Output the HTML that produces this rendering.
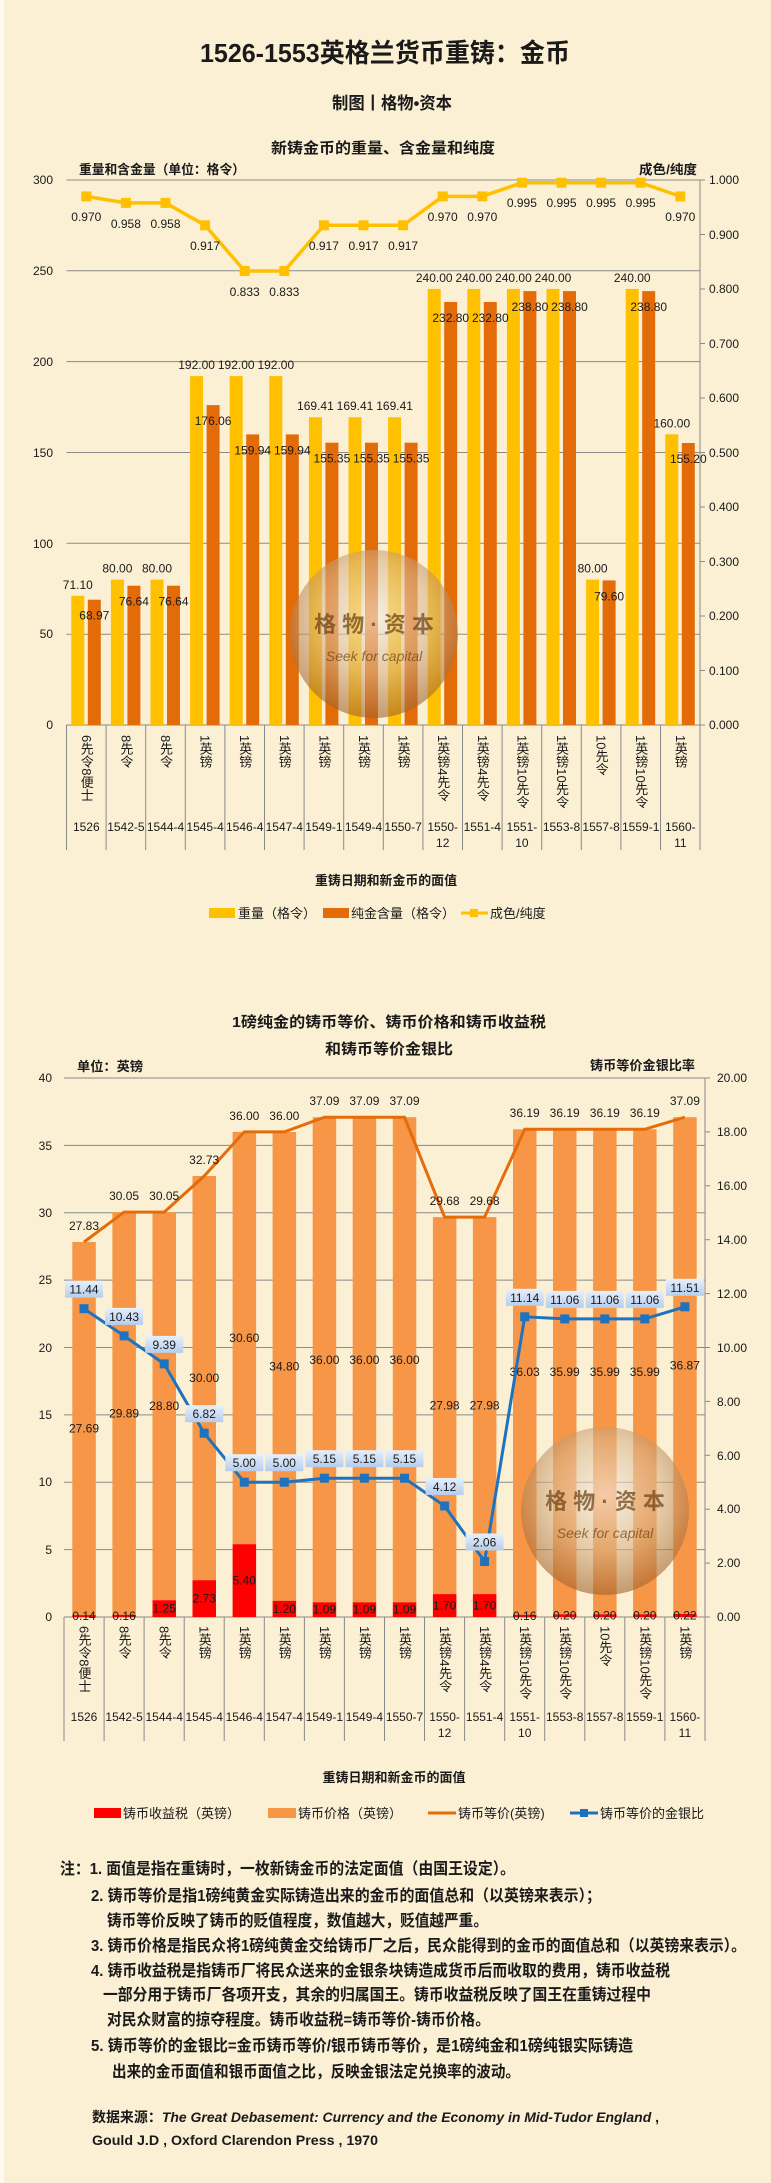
<!DOCTYPE html>
<html><head><meta charset="utf-8"><style>
html,body{margin:0;padding:0;background:#fcf0d4;}
svg{display:block;}
text{font-family:"Liberation Sans","Noto Sans CJK SC",sans-serif;fill:#1a1a1a;}
.n{font-size:12px;text-anchor:middle;}
.tk{font-size:12px;}
.cj{font-size:13px;}
.b{font-weight:bold;}
.v{font-size:13px;writing-mode:vertical-rl;}
.note{font-size:16px;font-weight:bold;}
</style></head><body>
<svg width="771" height="2183" viewBox="0 0 771 2183" xmlns="http://www.w3.org/2000/svg">
<defs>
<radialGradient id="wm" cx="50%" cy="40%" r="60%">
<stop offset="0" stop-color="#f3efe8"/><stop offset="0.55" stop-color="#d8b48a"/><stop offset="1" stop-color="#a0602a"/>
</radialGradient>
<linearGradient id="lb" x1="0" y1="0" x2="0" y2="1"><stop offset="0" stop-color="#e8f0fb"/><stop offset="1" stop-color="#b5cdee"/></linearGradient>
</defs>
<rect x="0" y="0" width="771" height="2183" fill="#fcf0d4"/>
<rect x="0" y="0" width="4" height="2183" fill="#fffaf0"/>

<!-- Titles -->
<text x="385" y="62" class="b" font-size="26" text-anchor="middle" textLength="370" lengthAdjust="spacingAndGlyphs">1526-1553英格兰货币重铸：金币</text>
<text x="392" y="109" class="b" font-size="17" text-anchor="middle" textLength="120" lengthAdjust="spacingAndGlyphs">制图丨格物•资本</text>
<text x="383" y="153" class="b" font-size="15" text-anchor="middle" textLength="224" lengthAdjust="spacingAndGlyphs">新铸金币的重量、含金量和纯度</text>
<text x="79" y="174" class="b" font-size="13" textLength="166" lengthAdjust="spacingAndGlyphs">重量和含金量（单位：格令）</text>
<text x="639" y="174" class="b" font-size="13" textLength="58" lengthAdjust="spacingAndGlyphs">成色/纯度</text>

<!-- Chart1 grid -->
<g stroke="#8a8a8a" stroke-width="1">
<line x1="66.5" y1="180" x2="700" y2="180"/><line x1="66.5" y1="270.8" x2="700" y2="270.8"/><line x1="66.5" y1="361.6" x2="700" y2="361.6"/><line x1="66.5" y1="452.5" x2="700" y2="452.5"/><line x1="66.5" y1="543.3" x2="700" y2="543.3"/><line x1="66.5" y1="634.2" x2="700" y2="634.2"/><line x1="66.5" y1="725" x2="700" y2="725"/>
<line x1="700" y1="180" x2="700" y2="725"/>
<line x1="700" y1="180" x2="705" y2="180"/><line x1="700" y1="234.5" x2="705" y2="234.5"/><line x1="700" y1="289" x2="705" y2="289"/><line x1="700" y1="343.5" x2="705" y2="343.5"/><line x1="700" y1="398" x2="705" y2="398"/><line x1="700" y1="452.5" x2="705" y2="452.5"/><line x1="700" y1="507" x2="705" y2="507"/><line x1="700" y1="561.5" x2="705" y2="561.5"/><line x1="700" y1="616" x2="705" y2="616"/><line x1="700" y1="670.5" x2="705" y2="670.5"/><line x1="700" y1="725" x2="705" y2="725"/>
<line x1="66.5" y1="725" x2="66.5" y2="850"/><line x1="106.1" y1="725" x2="106.1" y2="850"/><line x1="145.7" y1="725" x2="145.7" y2="850"/><line x1="185.3" y1="725" x2="185.3" y2="850"/><line x1="224.9" y1="725" x2="224.9" y2="850"/><line x1="264.5" y1="725" x2="264.5" y2="850"/><line x1="304.1" y1="725" x2="304.1" y2="850"/><line x1="343.7" y1="725" x2="343.7" y2="850"/><line x1="383.3" y1="725" x2="383.3" y2="850"/><line x1="422.9" y1="725" x2="422.9" y2="850"/><line x1="462.5" y1="725" x2="462.5" y2="850"/><line x1="502.1" y1="725" x2="502.1" y2="850"/><line x1="541.7" y1="725" x2="541.7" y2="850"/><line x1="581.3" y1="725" x2="581.3" y2="850"/><line x1="620.9" y1="725" x2="620.9" y2="850"/><line x1="660.5" y1="725" x2="660.5" y2="850"/><line x1="700" y1="725" x2="700" y2="850"/>
</g>
<g class="tk" text-anchor="end">
<text x="53" y="184">300</text><text x="53" y="275">250</text><text x="53" y="366">200</text><text x="53" y="457">150</text><text x="53" y="548">100</text><text x="53" y="638">50</text><text x="53" y="729">0</text>
</g>
<g class="tk">
<text x="709" y="184">1.000</text><text x="709" y="239">0.900</text><text x="709" y="293">0.800</text><text x="709" y="348">0.700</text><text x="709" y="402">0.600</text><text x="709" y="457">0.500</text><text x="709" y="511">0.400</text><text x="709" y="566">0.300</text><text x="709" y="620">0.200</text><text x="709" y="675">0.100</text><text x="709" y="729">0.000</text>
</g>

<!-- Chart1 bars -->
<g fill="#ffc000">
<rect x="71.3" y="595.8" width="13" height="129.2"/><rect x="110.9" y="579.6" width="13" height="145.4"/><rect x="150.5" y="579.6" width="13" height="145.4"/>
<rect x="190.1" y="376.1" width="13" height="348.9"/><rect x="229.7" y="376.1" width="13" height="348.9"/><rect x="269.3" y="376.1" width="13" height="348.9"/>
<rect x="308.9" y="417.2" width="13" height="307.8"/><rect x="348.5" y="417.2" width="13" height="307.8"/><rect x="388.1" y="417.2" width="13" height="307.8"/>
<rect x="427.7" y="288.9" width="13" height="436.1"/><rect x="467.3" y="288.9" width="13" height="436.1"/><rect x="506.9" y="288.9" width="13" height="436.1"/><rect x="546.5" y="288.9" width="13" height="436.1"/>
<rect x="586.1" y="579.6" width="13" height="145.4"/><rect x="625.7" y="288.9" width="13" height="436.1"/><rect x="665.3" y="434.3" width="13" height="290.7"/>
</g>
<g fill="#e36c09">
<rect x="87.8" y="599.7" width="13" height="125.3"/><rect x="127.4" y="585.7" width="13" height="139.3"/><rect x="167" y="585.7" width="13" height="139.3"/>
<rect x="206.6" y="405.1" width="13" height="319.9"/><rect x="246.2" y="434.4" width="13" height="290.6"/><rect x="285.8" y="434.4" width="13" height="290.6"/>
<rect x="325.4" y="442.7" width="13" height="282.3"/><rect x="365" y="442.7" width="13" height="282.3"/><rect x="404.6" y="442.7" width="13" height="282.3"/>
<rect x="444.2" y="302" width="13" height="423"/><rect x="483.8" y="302" width="13" height="423"/><rect x="523.4" y="291.1" width="13" height="433.9"/><rect x="563" y="291.1" width="13" height="433.9"/>
<rect x="602.6" y="580.4" width="13" height="144.6"/><rect x="642.2" y="291.1" width="13" height="433.9"/><rect x="681.8" y="443" width="13" height="282"/>
</g>

<!-- Chart1 fineness line -->
<polyline fill="none" stroke="#ffc000" stroke-width="3.5" points="86.3,196.4 125.9,202.9 165.5,202.9 205.1,225.3 244.7,271 284.3,271 323.9,225.3 363.5,225.3 403.1,225.3 442.7,196.4 482.3,196.4 521.9,182.7 561.5,182.7 601.1,182.7 640.7,182.7 680.3,196.4"/>
<g fill="#ffc000">
<rect x="81.3" y="191.4" width="10" height="10"/><rect x="120.9" y="197.9" width="10" height="10"/><rect x="160.5" y="197.9" width="10" height="10"/><rect x="200.1" y="220.3" width="10" height="10"/><rect x="239.7" y="266" width="10" height="10"/><rect x="279.3" y="266" width="10" height="10"/><rect x="318.9" y="220.3" width="10" height="10"/><rect x="358.5" y="220.3" width="10" height="10"/><rect x="398.1" y="220.3" width="10" height="10"/><rect x="437.7" y="191.4" width="10" height="10"/><rect x="477.3" y="191.4" width="10" height="10"/><rect x="516.9" y="177.7" width="10" height="10"/><rect x="556.5" y="177.7" width="10" height="10"/><rect x="596.1" y="177.7" width="10" height="10"/><rect x="635.7" y="177.7" width="10" height="10"/><rect x="675.3" y="191.4" width="10" height="10"/>
</g>
<g class="n">
<text x="86.3" y="221">0.970</text><text x="125.9" y="228">0.958</text><text x="165.5" y="228">0.958</text><text x="205.1" y="250">0.917</text><text x="244.7" y="296">0.833</text><text x="284.3" y="296">0.833</text><text x="323.9" y="250">0.917</text><text x="363.5" y="250">0.917</text><text x="403.1" y="250">0.917</text><text x="442.7" y="221">0.970</text><text x="482.3" y="221">0.970</text><text x="521.9" y="207">0.995</text><text x="561.5" y="207">0.995</text><text x="601.1" y="207">0.995</text><text x="640.7" y="207">0.995</text><text x="680.3" y="221">0.970</text>
</g>
<g class="n">
<text x="77.8" y="588.8">71.10</text><text x="117.4" y="572.6">80.00</text><text x="157" y="572.6">80.00</text><text x="196.6" y="369.1">192.00</text><text x="236.2" y="369.1">192.00</text><text x="275.8" y="369.1">192.00</text><text x="315.4" y="410.2">169.41</text><text x="355" y="410.2">169.41</text><text x="394.6" y="410.2">169.41</text><text x="434.2" y="281.9">240.00</text><text x="473.8" y="281.9">240.00</text><text x="513.4" y="281.9">240.00</text><text x="553" y="281.9">240.00</text><text x="592.6" y="572.6">80.00</text><text x="632.2" y="281.9">240.00</text><text x="671.8" y="427.3">160.00</text>
<text x="94.3" y="619.7">68.97</text><text x="133.9" y="605.7">76.64</text><text x="173.5" y="605.7">76.64</text><text x="213.1" y="425.1">176.06</text><text x="252.7" y="454.4">159.94</text><text x="292.3" y="454.4">159.94</text><text x="331.9" y="462.7">155.35</text><text x="371.5" y="462.7">155.35</text><text x="411.1" y="462.7">155.35</text><text x="450.7" y="322">232.80</text><text x="490.3" y="322">232.80</text><text x="529.9" y="311.1">238.80</text><text x="569.5" y="311.1">238.80</text><text x="609.1" y="600.4">79.60</text><text x="648.7" y="311.1">238.80</text><text x="688.3" y="463">155.20</text>
</g>

<!-- watermark 1 -->
<g opacity="0.6"><circle cx="374" cy="634" r="84" fill="url(#wm)"/></g>
<text x="374" y="632" font-size="22" text-anchor="middle" fill="#6b3f12" style="fill:#6b3f12" font-weight="bold" opacity="0.7">格 物 · 资 本</text>
<text x="374" y="661" font-size="14" text-anchor="middle" font-style="italic" style="fill:#6b3f12" opacity="0.7">Seek for capital</text>

<!-- Chart1 x labels -->
<g class="v">
<text x="86.3" y="735">6先令8便士</text><text x="125.9" y="735">8先令</text><text x="165.5" y="735">8先令</text><text x="205.1" y="735">1英镑</text><text x="244.7" y="735">1英镑</text><text x="284.3" y="735">1英镑</text><text x="323.9" y="735">1英镑</text><text x="363.5" y="735">1英镑</text><text x="403.1" y="735">1英镑</text><text x="442.7" y="735">1英镑4先令</text><text x="482.3" y="735">1英镑4先令</text><text x="521.9" y="735">1英镑10先令</text><text x="561.5" y="735">1英镑10先令</text><text x="601.1" y="735">10先令</text><text x="640.7" y="735">1英镑10先令</text><text x="680.3" y="735">1英镑</text>
</g>
<g class="n">
<text x="86.3" y="831">1526</text><text x="125.9" y="831">1542-5</text><text x="165.5" y="831">1544-4</text><text x="205.1" y="831">1545-4</text><text x="244.7" y="831">1546-4</text><text x="284.3" y="831">1547-4</text><text x="323.9" y="831">1549-1</text><text x="363.5" y="831">1549-4</text><text x="403.1" y="831">1550-7</text><text x="442.7" y="831">1550-</text><text x="442.7" y="847">12</text><text x="482.3" y="831">1551-4</text><text x="521.9" y="831">1551-</text><text x="521.9" y="847">10</text><text x="561.5" y="831">1553-8</text><text x="601.1" y="831">1557-8</text><text x="640.7" y="831">1559-1</text><text x="680.3" y="831">1560-</text><text x="680.3" y="847">11</text>
</g>
<text x="386" y="885" class="b" font-size="13" text-anchor="middle" textLength="142" lengthAdjust="spacingAndGlyphs">重铸日期和新金币的面值</text>
<!-- legend 1 -->
<rect x="209" y="908" width="26" height="10" fill="#ffc000"/>
<text x="238" y="918" class="cj">重量（格令）</text>
<rect x="323" y="908" width="26" height="10" fill="#e36c09"/>
<text x="351" y="918" class="cj">纯金含量（格令）</text>
<line x1="461" y1="913" x2="488" y2="913" stroke="#ffc000" stroke-width="3"/><rect x="470" y="909" width="8" height="8" fill="#ffc000"/>
<text x="490" y="918" class="cj">成色/纯度</text>

<!-- Chart2 titles -->
<text x="389" y="1027" class="b" font-size="15" text-anchor="middle" textLength="314" lengthAdjust="spacingAndGlyphs">1磅纯金的铸币等价、铸币价格和铸币收益税</text>
<text x="389" y="1054" class="b" font-size="15" text-anchor="middle" textLength="128" lengthAdjust="spacingAndGlyphs">和铸币等价金银比</text>
<text x="77" y="1071" class="b" font-size="13" textLength="66" lengthAdjust="spacingAndGlyphs">单位：英镑</text>
<text x="590" y="1070" class="b" font-size="13" textLength="105" lengthAdjust="spacingAndGlyphs">铸币等价金银比率</text>

<g stroke="#8a8a8a" stroke-width="1">
<line x1="64" y1="1078" x2="705" y2="1078"/><line x1="64" y1="1145.4" x2="705" y2="1145.4"/><line x1="64" y1="1212.8" x2="705" y2="1212.8"/><line x1="64" y1="1280.1" x2="705" y2="1280.1"/><line x1="64" y1="1347.5" x2="705" y2="1347.5"/><line x1="64" y1="1414.9" x2="705" y2="1414.9"/><line x1="64" y1="1482.3" x2="705" y2="1482.3"/><line x1="64" y1="1549.6" x2="705" y2="1549.6"/><line x1="64" y1="1617" x2="705" y2="1617"/>
<line x1="705" y1="1078" x2="705" y2="1617"/>
<line x1="705" y1="1078" x2="710" y2="1078"/><line x1="705" y1="1131.9" x2="710" y2="1131.9"/><line x1="705" y1="1185.8" x2="710" y2="1185.8"/><line x1="705" y1="1239.7" x2="710" y2="1239.7"/><line x1="705" y1="1293.6" x2="710" y2="1293.6"/><line x1="705" y1="1347.5" x2="710" y2="1347.5"/><line x1="705" y1="1401.4" x2="710" y2="1401.4"/><line x1="705" y1="1455.3" x2="710" y2="1455.3"/><line x1="705" y1="1509.2" x2="710" y2="1509.2"/><line x1="705" y1="1563.1" x2="710" y2="1563.1"/><line x1="705" y1="1617" x2="710" y2="1617"/>
<line x1="64" y1="1617" x2="64" y2="1741"/><line x1="104.1" y1="1617" x2="104.1" y2="1741"/><line x1="144.1" y1="1617" x2="144.1" y2="1741"/><line x1="184.2" y1="1617" x2="184.2" y2="1741"/><line x1="224.2" y1="1617" x2="224.2" y2="1741"/><line x1="264.3" y1="1617" x2="264.3" y2="1741"/><line x1="304.4" y1="1617" x2="304.4" y2="1741"/><line x1="344.4" y1="1617" x2="344.4" y2="1741"/><line x1="384.5" y1="1617" x2="384.5" y2="1741"/><line x1="424.5" y1="1617" x2="424.5" y2="1741"/><line x1="464.6" y1="1617" x2="464.6" y2="1741"/><line x1="504.7" y1="1617" x2="504.7" y2="1741"/><line x1="544.7" y1="1617" x2="544.7" y2="1741"/><line x1="584.8" y1="1617" x2="584.8" y2="1741"/><line x1="624.8" y1="1617" x2="624.8" y2="1741"/><line x1="664.9" y1="1617" x2="664.9" y2="1741"/><line x1="705" y1="1617" x2="705" y2="1741"/>
</g>
<g class="tk" text-anchor="end">
<text x="52" y="1082">40</text><text x="52" y="1150">35</text><text x="52" y="1217">30</text><text x="52" y="1284">25</text><text x="52" y="1352">20</text><text x="52" y="1419">15</text><text x="52" y="1486">10</text><text x="52" y="1554">5</text><text x="52" y="1621">0</text>
</g>
<g class="tk">
<text x="717" y="1082">20.00</text><text x="717" y="1136">18.00</text><text x="717" y="1190">16.00</text><text x="717" y="1244">14.00</text><text x="717" y="1298">12.00</text><text x="717" y="1352">10.00</text><text x="717" y="1406">8.00</text><text x="717" y="1460">6.00</text><text x="717" y="1513">4.00</text><text x="717" y="1567">2.00</text><text x="717" y="1621">0.00</text>
</g>

<!-- Chart2 bars -->
<g fill="#f79646">
<rect x="72.3" y="1242" width="23.5" height="373.1"/><rect x="112.4" y="1212.1" width="23.5" height="402.7"/><rect x="152.5" y="1212.1" width="23.5" height="388.1"/><rect x="192.5" y="1176" width="23.5" height="404.2"/><rect x="232.6" y="1131.9" width="23.5" height="412.3"/><rect x="272.6" y="1131.9" width="23.5" height="468.9"/><rect x="312.7" y="1117.2" width="23.5" height="485.1"/><rect x="352.7" y="1117.2" width="23.5" height="485.1"/><rect x="392.8" y="1117.2" width="23.5" height="485.1"/><rect x="432.9" y="1217.1" width="23.5" height="377"/><rect x="472.9" y="1217.1" width="23.5" height="377"/><rect x="513" y="1129.3" width="23.5" height="485.5"/><rect x="553" y="1129.3" width="23.5" height="485"/><rect x="593.1" y="1129.3" width="23.5" height="485"/><rect x="633.1" y="1129.3" width="23.5" height="485"/><rect x="673.2" y="1117.2" width="23.5" height="496.8"/>
</g>
<g fill="#ff0000">
<rect x="72.3" y="1615.1" width="23.5" height="1.9"/><rect x="112.4" y="1614.8" width="23.5" height="2.2"/><rect x="152.5" y="1600.2" width="23.5" height="16.8"/><rect x="192.5" y="1580.2" width="23.5" height="36.8"/><rect x="232.6" y="1544.2" width="23.5" height="72.8"/><rect x="272.6" y="1600.8" width="23.5" height="16.2"/><rect x="312.7" y="1602.3" width="23.5" height="14.7"/><rect x="352.7" y="1602.3" width="23.5" height="14.7"/><rect x="392.8" y="1602.3" width="23.5" height="14.7"/><rect x="432.9" y="1594.1" width="23.5" height="22.9"/><rect x="472.9" y="1594.1" width="23.5" height="22.9"/><rect x="513" y="1614.8" width="23.5" height="2.2"/><rect x="553" y="1614.3" width="23.5" height="2.7"/><rect x="593.1" y="1614.3" width="23.5" height="2.7"/><rect x="633.1" y="1614.3" width="23.5" height="2.7"/><rect x="673.2" y="1614" width="23.5" height="3"/>
</g>
<polyline fill="none" stroke="#e46c0a" stroke-width="3" points="84,1242 124.1,1212.1 164.2,1212.1 204.2,1176 244.3,1131.9 284.3,1131.9 324.4,1117.2 364.4,1117.2 404.5,1117.2 444.6,1217.1 484.6,1217.1 524.7,1129.3 564.7,1129.3 604.8,1129.3 644.8,1129.3 684.9,1117.2"/>
<g class="n">
<text x="84" y="1230">27.83</text><text x="124.1" y="1200">30.05</text><text x="164.2" y="1200">30.05</text><text x="204.2" y="1164">32.73</text><text x="244.3" y="1120">36.00</text><text x="284.3" y="1120">36.00</text><text x="324.4" y="1105">37.09</text><text x="364.4" y="1105">37.09</text><text x="404.5" y="1105">37.09</text><text x="444.6" y="1205">29.68</text><text x="484.6" y="1205">29.68</text><text x="524.7" y="1117">36.19</text><text x="564.7" y="1117">36.19</text><text x="604.8" y="1117">36.19</text><text x="644.8" y="1117">36.19</text><text x="684.9" y="1105">37.09</text>
<text x="84" y="1432.6">27.69</text><text x="124.1" y="1417.5">29.89</text><text x="164.2" y="1410.2">28.80</text><text x="204.2" y="1382.1">30.00</text><text x="244.3" y="1342.1">30.60</text><text x="284.3" y="1370.4">34.80</text><text x="324.4" y="1363.8">36.00</text><text x="364.4" y="1363.8">36.00</text><text x="404.5" y="1363.8">36.00</text><text x="444.6" y="1409.6">27.98</text><text x="484.6" y="1409.6">27.98</text><text x="524.7" y="1376">36.03</text><text x="564.7" y="1375.8">35.99</text><text x="604.8" y="1375.8">35.99</text><text x="644.8" y="1375.8">35.99</text><text x="684.9" y="1369.6">36.87</text>
<text x="84" y="1620">0.14</text><text x="124.1" y="1620">0.16</text><text x="164.2" y="1612.6">1.25</text><text x="204.2" y="1602.6">2.73</text><text x="244.3" y="1584.6">5.40</text><text x="284.3" y="1612.9">1.20</text><text x="324.4" y="1613.6">1.09</text><text x="364.4" y="1613.6">1.09</text><text x="404.5" y="1613.6">1.09</text><text x="444.6" y="1609.5">1.70</text><text x="484.6" y="1609.5">1.70</text><text x="524.7" y="1620">0.16</text><text x="564.7" y="1619.7">0.20</text><text x="604.8" y="1619.7">0.20</text><text x="644.8" y="1619.7">0.20</text><text x="684.9" y="1619.5">0.22</text>
</g>
<!-- ratio line -->
<polyline fill="none" stroke="#1f72bd" stroke-width="3" points="84,1308.7 124.1,1335.9 164.2,1363.9 204.2,1433.2 244.3,1482.2 284.3,1482.2 324.4,1478.2 364.4,1478.2 404.5,1478.2 444.6,1506 484.6,1561.5 524.7,1316.8 564.7,1318.9 604.8,1318.9 644.8,1318.9 684.9,1306.8"/>
<g fill="#1f72bd">
<rect x="79.5" y="1304.2" width="9" height="9"/><rect x="119.6" y="1331.4" width="9" height="9"/><rect x="159.7" y="1359.4" width="9" height="9"/><rect x="199.7" y="1428.7" width="9" height="9"/><rect x="239.8" y="1477.7" width="9" height="9"/><rect x="279.8" y="1477.7" width="9" height="9"/><rect x="319.9" y="1473.7" width="9" height="9"/><rect x="359.9" y="1473.7" width="9" height="9"/><rect x="400" y="1473.7" width="9" height="9"/><rect x="440.1" y="1501.5" width="9" height="9"/><rect x="480.1" y="1557" width="9" height="9"/><rect x="520.2" y="1312.3" width="9" height="9"/><rect x="560.2" y="1314.4" width="9" height="9"/><rect x="600.3" y="1314.4" width="9" height="9"/><rect x="640.3" y="1314.4" width="9" height="9"/><rect x="680.4" y="1302.3" width="9" height="9"/>
</g>
<g fill="url(#lb)">
<rect x="65" y="1280.7" width="38" height="17"/><rect x="105.1" y="1307.9" width="38" height="17"/><rect x="145.2" y="1335.9" width="38" height="17"/><rect x="185.2" y="1405.2" width="38" height="17"/><rect x="225.3" y="1454.2" width="38" height="17"/><rect x="265.3" y="1454.2" width="38" height="17"/><rect x="305.4" y="1450.2" width="38" height="17"/><rect x="345.4" y="1450.2" width="38" height="17"/><rect x="385.5" y="1450.2" width="38" height="17"/><rect x="425.6" y="1478" width="38" height="17"/><rect x="465.6" y="1533.5" width="38" height="17"/><rect x="505.7" y="1288.8" width="38" height="17"/><rect x="545.7" y="1290.9" width="38" height="17"/><rect x="585.8" y="1290.9" width="38" height="17"/><rect x="625.8" y="1290.9" width="38" height="17"/><rect x="665.9" y="1278.8" width="38" height="17"/>
</g>
<g class="n">
<text x="84" y="1293.7">11.44</text><text x="124.1" y="1320.9">10.43</text><text x="164.2" y="1348.9">9.39</text><text x="204.2" y="1418.2">6.82</text><text x="244.3" y="1467.2">5.00</text><text x="284.3" y="1467.2">5.00</text><text x="324.4" y="1463.2">5.15</text><text x="364.4" y="1463.2">5.15</text><text x="404.5" y="1463.2">5.15</text><text x="444.6" y="1491">4.12</text><text x="484.6" y="1546.5">2.06</text><text x="524.7" y="1301.8">11.14</text><text x="564.7" y="1303.9">11.06</text><text x="604.8" y="1303.9">11.06</text><text x="644.8" y="1303.9">11.06</text><text x="684.9" y="1291.8">11.51</text>
</g>

<!-- watermark 2 -->
<g opacity="0.6"><circle cx="605" cy="1511" r="84" fill="url(#wm)"/></g>
<text x="605" y="1509" font-size="22" text-anchor="middle" style="fill:#6b3f12" font-weight="bold" opacity="0.7">格 物 · 资 本</text>
<text x="605" y="1538" font-size="14" text-anchor="middle" font-style="italic" style="fill:#6b3f12" opacity="0.7">Seek for capital</text>

<!-- Chart2 x labels -->
<g class="v">
<text x="84" y="1626">6先令8便士</text><text x="124.1" y="1626">8先令</text><text x="164.2" y="1626">8先令</text><text x="204.2" y="1626">1英镑</text><text x="244.3" y="1626">1英镑</text><text x="284.3" y="1626">1英镑</text><text x="324.4" y="1626">1英镑</text><text x="364.4" y="1626">1英镑</text><text x="404.5" y="1626">1英镑</text><text x="444.6" y="1626">1英镑4先令</text><text x="484.6" y="1626">1英镑4先令</text><text x="524.7" y="1626">1英镑10先令</text><text x="564.7" y="1626">1英镑10先令</text><text x="604.8" y="1626">10先令</text><text x="644.8" y="1626">1英镑10先令</text><text x="684.9" y="1626">1英镑</text>
</g>
<g class="n">
<text x="84" y="1721">1526</text><text x="124.1" y="1721">1542-5</text><text x="164.2" y="1721">1544-4</text><text x="204.2" y="1721">1545-4</text><text x="244.3" y="1721">1546-4</text><text x="284.3" y="1721">1547-4</text><text x="324.4" y="1721">1549-1</text><text x="364.4" y="1721">1549-4</text><text x="404.5" y="1721">1550-7</text><text x="444.6" y="1721">1550-</text><text x="444.6" y="1737">12</text><text x="484.6" y="1721">1551-4</text><text x="524.7" y="1721">1551-</text><text x="524.7" y="1737">10</text><text x="564.7" y="1721">1553-8</text><text x="604.8" y="1721">1557-8</text><text x="644.8" y="1721">1559-1</text><text x="684.9" y="1721">1560-</text><text x="684.9" y="1737">11</text>
</g>
<text x="394" y="1782" class="b" font-size="13" text-anchor="middle" textLength="143" lengthAdjust="spacingAndGlyphs">重铸日期和新金币的面值</text>
<!-- legend 2 -->
<rect x="94" y="1808" width="27" height="10" fill="#ff0000"/>
<text x="123" y="1818" class="cj">铸币收益税（英镑）</text>
<rect x="268" y="1808" width="28" height="10" fill="#f79646"/>
<text x="298" y="1818" class="cj">铸币价格（英镑）</text>
<line x1="428" y1="1813" x2="456" y2="1813" stroke="#e46c0a" stroke-width="3"/>
<text x="458" y="1818" class="cj">铸币等价(英镑)</text>
<line x1="570" y1="1813" x2="598" y2="1813" stroke="#1f72bd" stroke-width="3"/><rect x="580" y="1809" width="8" height="8" fill="#1f72bd"/>
<text x="600" y="1818" class="cj">铸币等价的金银比</text>

<!-- notes -->
<g class="note">
<text x="60" y="1874" textLength="455" lengthAdjust="spacingAndGlyphs">注：1. 面值是指在重铸时，一枚新铸金币的法定面值（由国王设定）。</text>
<text x="91" y="1901" textLength="510" lengthAdjust="spacingAndGlyphs">2. 铸币等价是指1磅纯黄金实际铸造出来的金币的面值总和（以英镑来表示）；</text>
<text x="107" y="1926" textLength="381" lengthAdjust="spacingAndGlyphs">铸币等价反映了铸币的贬值程度，数值越大，贬值越严重。</text>
<text x="91" y="1951" textLength="655" lengthAdjust="spacingAndGlyphs">3. 铸币价格是指民众将1磅纯黄金交给铸币厂之后，民众能得到的金币的面值总和（以英镑来表示）。</text>
<text x="91" y="1976" textLength="579" lengthAdjust="spacingAndGlyphs">4. 铸币收益税是指铸币厂将民众送来的金银条块铸造成货币后而收取的费用，铸币收益税</text>
<text x="103" y="2000" textLength="548" lengthAdjust="spacingAndGlyphs">一部分用于铸币厂各项开支，其余的归属国王。铸币收益税反映了国王在重铸过程中</text>
<text x="107" y="2025" textLength="383" lengthAdjust="spacingAndGlyphs">对民众财富的掠夺程度。铸币收益税=铸币等价-铸币价格。</text>
<text x="91" y="2051" textLength="542" lengthAdjust="spacingAndGlyphs">5. 铸币等价的金银比=金币铸币等价/银币铸币等价，是1磅纯金和1磅纯银实际铸造</text>
<text x="112" y="2077" textLength="408" lengthAdjust="spacingAndGlyphs">出来的金币面值和银币面值之比，反映金银法定兑换率的波动。</text>
</g>
<text x="92" y="2122" font-size="14" font-weight="bold" textLength="567" lengthAdjust="spacingAndGlyphs">数据来源：<tspan font-style="italic">The Great Debasement: Currency and the Economy in Mid-Tudor England</tspan> ,</text>
<text x="92" y="2145" font-size="14" font-weight="bold" textLength="286" lengthAdjust="spacingAndGlyphs">Gould  J.D , Oxford  Clarendon Press , 1970</text>
</svg>
</body></html>
